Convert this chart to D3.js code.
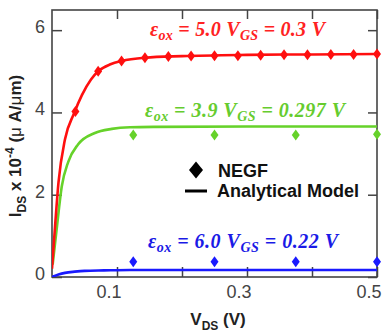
<!DOCTYPE html>
<html><head><meta charset="utf-8">
<script src="https://cdn.jsdelivr.net/npm/d3@7"></script>
<style>body{margin:0;background:#fff}svg{display:block}</style>
</head><body>
<svg id="c" width="383" height="333"></svg>
<script>
// ---- data ----
const redModelV = [0.0, 0.005, 0.01, 0.02, 0.034, 0.046, 0.06, 0.071, 0.09, 0.107, 0.143, 0.2, 0.3, 0.4, 0.5];
const redModelI = [0.2, 1.3, 2.3, 3.35, 3.98, 4.42, 4.8, 5.0, 5.17, 5.25, 5.33, 5.37, 5.4, 5.41, 5.42];
const greenModelV = [0.001, 0.007, 0.015, 0.025, 0.04, 0.066, 0.092, 0.12, 0.16, 0.3, 0.5];
const greenModelI = [0.3, 1.14, 2.2, 2.8, 3.22, 3.5, 3.6, 3.64, 3.65, 3.66, 3.66];
const blueModelV = [0.0, 0.01, 0.02, 0.035, 0.05, 0.08, 0.12, 0.2, 0.3, 0.5];
const blueModelI = [0.0, 0.06, 0.1, 0.13, 0.15, 0.16, 0.17, 0.17, 0.17, 0.17];

const redNegfV = [0.036, 0.071, 0.107, 0.143, 0.179, 0.214, 0.25, 0.286, 0.321, 0.357, 0.393, 0.429, 0.464, 0.5];
const redNegfI = [4.02, 5.0, 5.25, 5.33, 5.36, 5.37, 5.38, 5.38, 5.39, 5.4, 5.4, 5.41, 5.41, 5.42];
const greenNegfV = [0.125, 0.25, 0.375, 0.5];
const greenNegfI = [3.45, 3.45, 3.45, 3.47];
const blueNegfV = [0.125, 0.25, 0.375, 0.5];
const blueNegfI = [0.37, 0.37, 0.37, 0.37];

const xTicks = [0.1, 0.2, 0.3, 0.4, 0.5];
const xTickLabels = ["0.1", "", "0.3", "", "0.5"];
const yTicks = [0, 2, 4, 6];
const yTickLabels = ["0", "2", "4", "6"];

const annotations = [
  {eps: "5.0", vgs: "0.3", color: "#ff2222"},
  {eps: "3.9", vgs: "0.297", color: "#66cc2e"},
  {eps: "6.0", vgs: "0.22", color: "#1a1ae6"}
];

// ---- layout ----
const svg = d3.select("#c");
const L = 52, R = 377, T = 10, B = 277;
const x = d3.scaleLinear().domain([0, 0.5]).range([L, R]);
const y = d3.scaleLinear().domain([0, 6.49]).range([B, T]);
const axisColor = "#444";

svg.append("defs").append("clipPath").attr("id", "clip")
  .append("rect").attr("x", L).attr("y", T).attr("width", R - L).attr("height", B - T);

// ticks (inward)
const gx = svg.append("g").attr("transform", `translate(0,${B})`)
  .call(d3.axisBottom(x).tickValues(xTicks).tickSize(-10).tickFormat(""));
const gxt = svg.append("g").attr("transform", `translate(0,${T})`)
  .call(d3.axisTop(x).tickValues(xTicks).tickSize(-9).tickFormat(""));
const gy = svg.append("g").attr("transform", `translate(${L},0)`)
  .call(d3.axisLeft(y).tickValues(yTicks).tickSize(-10).tickFormat(""));
const gyr = svg.append("g").attr("transform", `translate(${R},0)`)
  .call(d3.axisRight(y).tickValues(yTicks).tickSize(-9).tickFormat(""));
[gx, gxt, gy, gyr].forEach(g => {
  g.select(".domain").remove();
  g.selectAll(".tick line").attr("stroke", axisColor).attr("stroke-width", 1.5);
});

// frame
svg.append("rect").attr("x", L).attr("y", T).attr("width", R - L).attr("height", B - T)
  .attr("fill", "none").attr("stroke", axisColor).attr("stroke-width", 1.6);

// tick labels
svg.append("g").selectAll("text").data(xTicks).join("text")
  .attr("x", d => x(d) - 8).attr("y", 298)
  .attr("text-anchor", "middle")
  .attr("font-family", "Liberation Sans, Arial, sans-serif").attr("font-size", 18)
  .attr("fill", "#444").text((d, i) => xTickLabels[i]);
svg.append("g").selectAll("text").data(yTicks).join("text")
  .attr("x", 45).attr("y", d => y(d) + 3)
  .attr("text-anchor", "end")
  .attr("font-family", "Liberation Sans, Arial, sans-serif").attr("font-size", 18)
  .attr("fill", "#444").text((d, i) => yTickLabels[i]);

// curves
const line = d3.line().x(d => x(d[0])).y(d => y(d[1])).curve(d3.curveMonotoneX);
const plot = svg.append("g").attr("clip-path", "url(#clip)");
const series = [
  {v: blueModelV, i: blueModelI, nv: blueNegfV, ni: blueNegfI, color: "#1a1aff", w: 8, h: 11},
  {v: greenModelV, i: greenModelI, nv: greenNegfV, ni: greenNegfI, color: "#66d22a", w: 8, h: 11},
  {v: redModelV, i: redModelI, nv: redNegfV, ni: redNegfI, color: "#ff0f0f", w: 8, h: 11}
];
series.forEach(s => {
  plot.append("path").datum(s.v.map((v, k) => [v, s.i[k]]))
    .attr("d", line).attr("fill", "none").attr("stroke", s.color).attr("stroke-width", 2.6);
});
const diamond = (w, h) => `M0,${-h/2}L${w/2},0L0,${h/2}L${-w/2},0Z`;
series.forEach(s => {
  svg.append("g").selectAll("path").data(s.nv.map((v, k) => [v, s.ni[k]])).join("path")
    .attr("transform", d => `translate(${x(d[0])},${y(d[1])})`)
    .attr("d", diamond(s.w, s.h)).attr("fill", s.color);
});

// annotations
const annY = [36, 117, 248];
const annX = [150, 145, 148];
const annW = [175, 200, 190];
annotations.forEach((a, k) => {
  const t = svg.append("text").attr("x", annX[k]).attr("y", annY[k])
    .attr("font-family", "Liberation Serif, Times New Roman, serif")
    .attr("font-style", "italic").attr("font-weight", "bold")
    .attr("font-size", 20).attr("fill", a.color)
    .attr("textLength", annW[k]).attr("lengthAdjust", "spacing");
  t.append("tspan").text("ε");
  t.append("tspan").attr("font-size", 14).attr("dy", 4).text("ox");
  t.append("tspan").attr("dy", -4).text(" = " + a.eps + " V");
  t.append("tspan").attr("font-size", 14).attr("dy", 4).text("GS");
  t.append("tspan").attr("dy", -4).text(" = " + a.vgs + " V");
});

// legend
svg.append("path").attr("transform", "translate(196,170)").attr("d", diamond(14, 17)).attr("fill", "#000");
svg.append("line").attr("x1", 185).attr("x2", 207).attr("y1", 191).attr("y2", 191)
  .attr("stroke", "#000").attr("stroke-width", 3);
svg.append("text").attr("x", 218).attr("y", 176.5)
  .attr("font-family", "Liberation Sans, Arial, sans-serif").attr("font-weight", "bold")
  .attr("font-size", 18).attr("fill", "#111").text("NEGF");
svg.append("text").attr("x", 217).attr("y", 197)
  .attr("font-family", "Liberation Sans, Arial, sans-serif").attr("font-weight", "bold")
  .attr("font-size", 18).attr("fill", "#111").text("Analytical Model");

// axis titles
const xt = svg.append("text").attr("x", 218).attr("y", 325).attr("text-anchor", "middle")
  .attr("font-family", "Liberation Sans, Arial, sans-serif").attr("font-weight", "bold")
  .attr("font-size", 17).attr("fill", "#222");
xt.append("tspan").text("V");
xt.append("tspan").attr("font-size", 12).attr("dy", 5).text("DS");
xt.append("tspan").attr("dy", -5).text(" (V)");

const yt = svg.append("text").attr("transform", "translate(21,146) rotate(-90)")
  .attr("text-anchor", "middle")
  .attr("font-family", "Liberation Sans, Arial, sans-serif").attr("font-weight", "bold")
  .attr("font-size", 17).attr("fill", "#222");
yt.append("tspan").text("I");
yt.append("tspan").attr("font-size", 12).attr("dy", 5).text("DS");
yt.append("tspan").attr("dy", -5).text(" x 10");
yt.append("tspan").attr("font-size", 12).attr("dy", -7).text("-4");
yt.append("tspan").attr("dy", 7).text(" (");
yt.append("tspan").attr("font-weight", "normal").text("μ");
yt.append("tspan").text(" A/");
yt.append("tspan").attr("font-weight", "normal").text("μ");
yt.append("tspan").text("m)");
</script>
</body></html>
